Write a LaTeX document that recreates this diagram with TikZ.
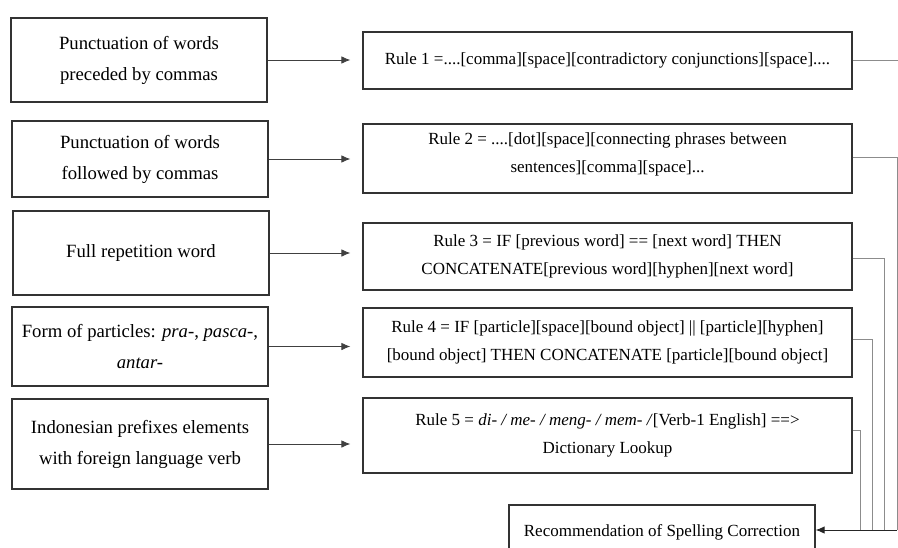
\documentclass[tikz,border=0pt]{standalone}
\usepackage{fontspec}
\setmainfont{Liberation Serif}
\usetikzlibrary{arrows.meta}

\begin{document}
\begin{tikzpicture}[x=1pt,y=-1pt,>={Latex[length=9pt,width=7.5pt]},
  srcbox/.style={draw=black!80,line width=1.2pt,minimum width=256pt,inner sep=2pt,align=center,
    font=\fontsize{18.7}{31}\selectfont},
  rulebox/.style={draw=black!80,line width=1.2pt,minimum width=489pt,inner sep=2pt,align=center,
    font=\fontsize{17}{27.5}\selectfont},
  feed/.style={->,draw=black!75,line width=0.8pt,shorten >=12pt},
  link/.style={draw=black!45,line width=0.8pt}]
  \useasboundingbox (0,0) rectangle (898,547);

  % input cases
  \node[srcbox,minimum height=84pt] (src1) at (139,60) {Punctuation of words\\preceded by commas};
  \node[srcbox,minimum height=76pt] (src2) at (140,159) {Punctuation of words\\followed by commas};
  \node[srcbox,minimum height=84pt] (src3) at (141,253) {Full repetition word};
  \node[srcbox,minimum height=79pt] (src4) at (140,346.5) {Form of particles: \textit{pra-}, \textit{pasca-},\\\textit{antar-}};
  \node[srcbox,minimum height=90pt] (src5) at (140,444) {Indonesian prefixes elements\\with foreign language verb};

  % rules
  \node[rulebox,minimum height=57pt] (rule1) at (607.5,60.5) {Rule 1 =....[comma][space][contradictory conjunctions][space]....};
  \node[rulebox,minimum height=69pt,text depth=12pt] (rule2) at (607.5,158.5) {Rule 2 = ....[dot][space][connecting phrases between\\sentences][comma][space]...};
  \node[rulebox,minimum height=67pt] (rule3) at (607.5,256.5) {Rule 3 = IF [previous word] == [next word] THEN\\CONCATENATE[previous word][hyphen][next word]};
  \node[rulebox,minimum height=69pt] (rule4) at (607.5,342.5) {Rule 4 = IF [particle][space][bound object] || [particle][hyphen]\\\relax[bound object] THEN CONCATENATE [particle][bound object]};
  \node[rulebox,minimum height=75pt] (rule5) at (607.5,435.5) {Rule 5 = \textit{di- / me- / meng- / mem- /}[Verb-1 English] ==>\\Dictionary Lookup};

  % result
  \node[draw=black!80,line width=1.2pt,minimum width=306pt,minimum height=54pt,
    font=\fontsize{17}{20}\selectfont] (rec) at (662,532) {Recommendation of Spelling Correction};

  % case -> rule
  \foreach \i in {1,...,5}
    \draw[feed] (src\i.east) -- (src\i.east -| rule\i.west);

  % rules -> result
  \coordinate (out1) at (898,60);
  \coordinate (bus2) at (897,530);
  \coordinate (bus3) at (884,530);
  \coordinate (bus4) at (872,530);
  \coordinate (bus5) at (860,530);
  \draw[link] (rule1.east) -- (rule1.east -| out1);
  \draw[link] ([yshift=1.5pt]rule2.east) -| (bus2);
  \draw[link] ([yshift=-1.5pt]rule3.east) -| (bus3);
  \draw[link] ([yshift=3.5pt]rule4.east) -| (bus4);
  \draw[link] ([yshift=5.5pt]rule5.east) -| (bus5);
  \draw[->,draw=black!85,line width=1pt] (bus2) -- (bus2 -| rec.east);
\end{tikzpicture}
\end{document}
